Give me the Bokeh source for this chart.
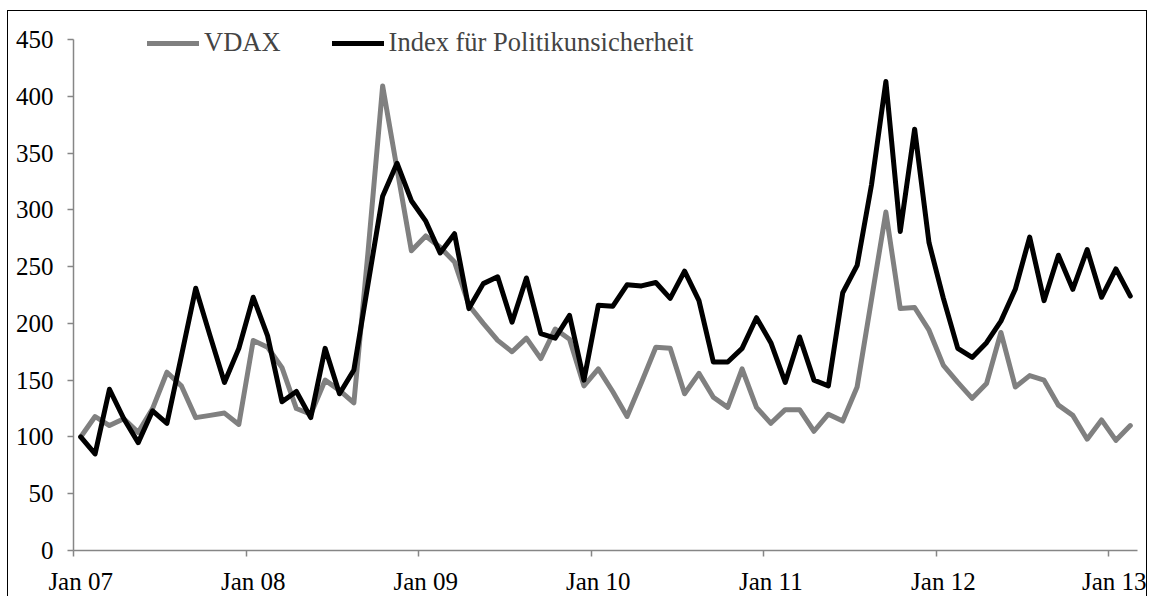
import numpy as np
from bokeh.plotting import figure
from bokeh.models import Range1d, FixedTicker, Legend, LegendItem, ColumnDataSource
from bokeh.embed import file_html
from bokeh.resources import INLINE

# Monthly data, Jan 2007 .. Feb 2013 (index, Jan 2007 = 100)
vdax = [100, 118, 110, 116, 104, 125, 157, 145, 117, 119, 121, 111,
        185, 179, 161, 125, 120, 150, 141, 130, 265, 409, 336, 264,
        277, 267, 254, 216, 200, 185, 175, 187, 169, 195, 186, 145,
        160, 140, 118, 148, 179, 178, 138, 156, 135, 126, 160, 126,
        112, 124, 124, 105, 120, 114, 144, 221, 298, 213, 214, 194,
        163, 148, 134, 147, 192, 144, 154, 150, 128, 119, 98, 115,
        97, 110]
epu = [100, 85, 142, 116, 95, 123, 112, 171, 231, 189, 148, 178,
       223, 189, 131, 140, 117, 178, 138, 159, 236, 312, 341, 308,
       290, 262, 279, 213, 235, 241, 201, 240, 191, 187, 207, 150,
       216, 215, 234, 233, 236, 222, 246, 220, 166, 166, 178, 205,
       183, 148, 188, 150, 145, 227, 251, 322, 413, 281, 371, 271,
       222, 178, 170, 183, 202, 230, 276, 220, 260, 230, 265, 223,
       248, 224]
tick_labels = ["Jan 07", "Jan 08", "Jan 09", "Jan 10", "Jan 11", "Jan 12", "Jan 13"]
y_ticks = [0, 50, 100, 150, 200, 250, 300, 350, 400, 450]

n = len(vdax)
x = np.arange(n) + 0.5  # centre of each monthly category
src = ColumnDataSource(dict(x=x, vdax=vdax, epu=epu))

FONT = "Liberation Serif"
FS = "25px"
LEG_FS = "26.5px"
AXIS_GRAY = "#868686"

# frame extends a little above 450 so the legend sits inside it
Y_TOP = 462.3

p = figure(width=1140, height=586, output_backend="svg", toolbar_location=None,
           x_range=Range1d(0, n), y_range=Range1d(0, Y_TOP),
           min_border_left=65, min_border_right=11, min_border_top=14, min_border_bottom=46)
p.styles = {"border-top": "1.5px solid black", "border-left": "1.5px solid black",
            "border-right": "1.5px solid black", "margin-top": "10px", "margin-left": "7px"}
p.outline_line_color = None
p.grid.visible = False
p.background_fill_color = "white"
p.border_fill_color = "white"

r1 = p.line("x", "vdax", source=src, line_color="#808080", line_width=5,
            line_join="round", line_cap="round")
r2 = p.line("x", "epu", source=src, line_color="black", line_width=5,
            line_join="round", line_cap="round")

# x axis: ticks at year boundaries, labels at centre of the January category
year_starts = [12 * k for k in range(len(tick_labels))]
label_pos = [12 * k + 0.5 for k in range(len(tick_labels))]
p.xaxis.ticker = FixedTicker(ticks=label_pos, minor_ticks=year_starts)
p.xaxis.major_label_overrides = {pos: lab for pos, lab in zip(label_pos, tick_labels)}
p.xaxis.major_tick_line_color = None
p.xaxis.major_tick_out = 0
p.xaxis.major_tick_in = 0
p.xaxis.minor_tick_out = 6
p.xaxis.minor_tick_in = 0
p.xaxis.minor_tick_line_color = AXIS_GRAY
p.xaxis.minor_tick_line_width = 1.5
p.xaxis.major_label_standoff = 11

p.yaxis.ticker = FixedTicker(ticks=y_ticks)
p.yaxis.bounds = (0, 450)
p.yaxis.minor_tick_line_color = None
p.yaxis.major_tick_out = 6
p.yaxis.major_tick_in = 0
p.yaxis.major_tick_line_color = AXIS_GRAY
p.yaxis.major_tick_line_width = 1.5
p.yaxis.major_label_standoff = 14

for ax in (p.xaxis, p.yaxis):
    ax.axis_line_color = AXIS_GRAY
    ax.axis_line_width = 1.5
    ax.major_label_text_font = FONT
    ax.major_label_text_font_size = FS
    ax.major_label_text_color = "black"

legend = Legend(items=[LegendItem(label="VDAX", renderers=[r1]),
                       LegendItem(label="Index für Politikunsicherheit", renderers=[r2])],
                orientation="horizontal", location=(74, 492),
                padding=0, margin=0, spacing=51,
                glyph_width=52, glyph_height=20, label_standoff=5,
                label_text_font=FONT, label_text_font_size=LEG_FS,
                border_line_color=None, background_fill_alpha=0)
p.add_layout(legend)

open("out.html", "w").write(file_html(p, INLINE))
